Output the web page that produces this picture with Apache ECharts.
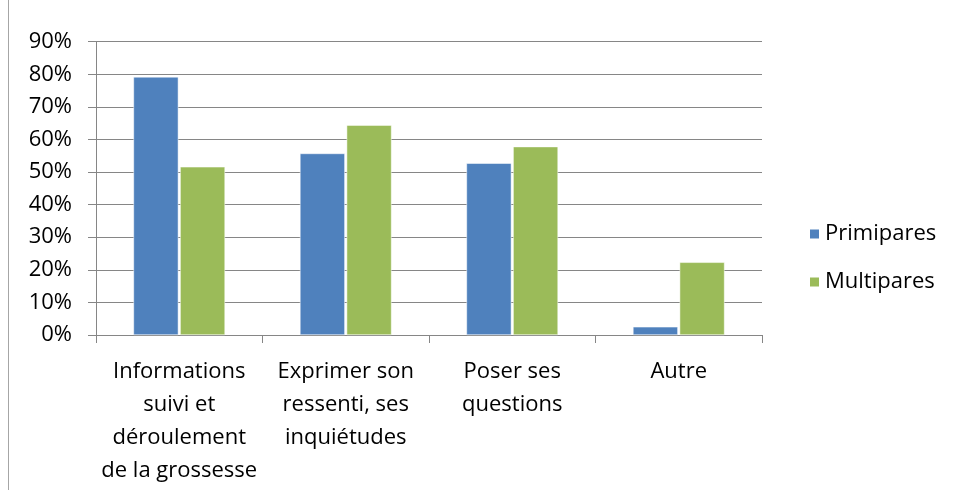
<!DOCTYPE html>
<html>
<head>
<meta charset="utf-8">
<script src="https://cdn.jsdelivr.net/npm/echarts@6/dist/echarts.min.js"></script>
<style>
  html, body { margin: 0; padding: 0; background: #fff; }
  #chart { width: 953px; height: 490px; }
</style>
</head>
<body>
<div id="chart"></div>
<script>
const categories = [
  'Informations\nsuivi et\ndéroulement\nde la grossesse',
  'Exprimer son\nressenti, ses\ninquiétudes',
  'Poser ses\nquestions',
  'Autre'
];
const primipares = [79.2, 55.7, 52.7, 2.5];
const multipares = [51.6, 64.4, 57.8, 22.3];
const yTicks = [0, 10, 20, 30, 40, 50, 60, 70, 80, 90];

const blue = '#4F81BD';
const green = '#9BBB59';
const lineColor = '#868686';
const font = '"Open Sans", Lato, sans-serif';

let chart = echarts.init(document.getElementById('chart'));
let option = {
  animation: false,
  textStyle: { fontFamily: font },
  graphic: [
    {
      type: 'line',
      shape: { x1: 8.5, y1: 0, x2: 8.5, y2: 490 },
      style: { stroke: '#a6a6a6', lineWidth: 1 }
    }
  ],
  grid: { left: 96, right: 191, top: 41.7, bottom: 155 },
  legend: {
    orient: 'vertical',
    left: 803,
    top: 218,
    itemWidth: 11,
    itemHeight: 11,
    itemGap: 26,
    icon: 'rect',
    textStyle: { fontSize: 22, color: '#000', fontFamily: font, padding: [0, 0, 0, 0] },
    data: ['Primipares', 'Multipares']
  },
  xAxis: {
    type: 'category',
    data: categories,
    axisLine: { lineStyle: { color: lineColor, width: 1 } },
    axisTick: { show: true, alignWithLabel: false, length: 8, lineStyle: { color: lineColor } },
    axisLabel: {
      interval: 0,
      margin: 20,
      fontSize: 22,
      lineHeight: 33,
      color: '#000',
      fontFamily: font
    },
    splitLine: { show: false }
  },
  yAxis: {
    type: 'value',
    min: yTicks[0],
    max: yTicks[yTicks.length - 1],
    interval: 10,
    axisLine: { show: true, lineStyle: { color: lineColor, width: 1 } },
    axisTick: { show: true, length: 8, lineStyle: { color: lineColor } },
    axisLabel: {
      formatter: '{value}%',
      margin: 24,
      fontSize: 22,
      color: '#000',
      fontFamily: font
    },
    splitLine: { show: true, lineStyle: { color: lineColor, width: 1 } }
  },
  series: [
    {
      name: 'Primipares',
      type: 'bar',
      data: primipares,
      barGap: '4%',
      barCategoryGap: '45%',
      itemStyle: { color: blue, borderColor: '#fff', borderWidth: 0.5 }
    },
    {
      name: 'Multipares',
      type: 'bar',
      data: multipares,
      barGap: '4%',
      barCategoryGap: '45%',
      itemStyle: { color: green, borderColor: '#fff', borderWidth: 0.5 }
    }
  ]
};
chart.setOption(option);
</script>
</body>
</html>
